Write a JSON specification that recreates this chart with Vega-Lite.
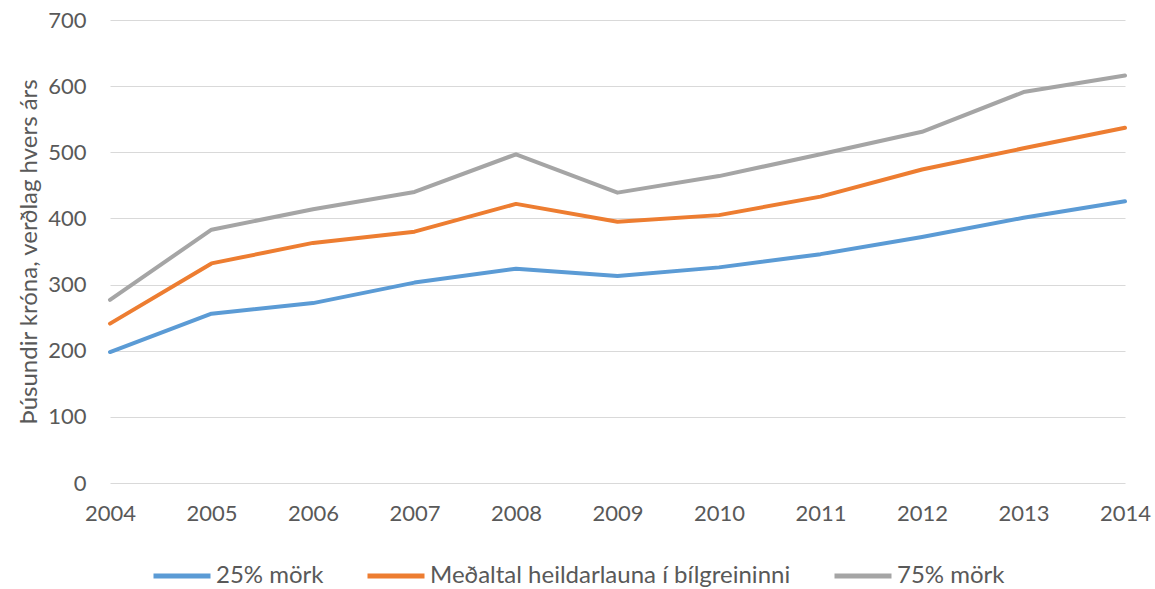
{
  "$schema": "https://vega.github.io/schema/vega-lite/v6.json",
  "width": 1015,
  "height": 463,
  "autosize": {"type": "none"},
  "padding": {"left": 110, "top": 20, "right": 30, "bottom": 106},
  "background": "white",
  "config": {
    "font": "Lato",
    "view": {"stroke": null},
    "axis": {"labelFont": "Lato", "titleFont": "Lato", "labelColor": "#595959", "titleColor": "#595959"}
  },
  "data": {
    "values": [
      {"year": 2004, "series": "25% mörk", "value": 198},
      {"year": 2005, "series": "25% mörk", "value": 256},
      {"year": 2006, "series": "25% mörk", "value": 272},
      {"year": 2007, "series": "25% mörk", "value": 303},
      {"year": 2008, "series": "25% mörk", "value": 324},
      {"year": 2009, "series": "25% mörk", "value": 313},
      {"year": 2010, "series": "25% mörk", "value": 326},
      {"year": 2011, "series": "25% mörk", "value": 346},
      {"year": 2012, "series": "25% mörk", "value": 372},
      {"year": 2013, "series": "25% mörk", "value": 401},
      {"year": 2014, "series": "25% mörk", "value": 426},
      {"year": 2004, "series": "Meðaltal heildarlauna í bílgreininni", "value": 241},
      {"year": 2005, "series": "Meðaltal heildarlauna í bílgreininni", "value": 332},
      {"year": 2006, "series": "Meðaltal heildarlauna í bílgreininni", "value": 363},
      {"year": 2007, "series": "Meðaltal heildarlauna í bílgreininni", "value": 380},
      {"year": 2008, "series": "Meðaltal heildarlauna í bílgreininni", "value": 422},
      {"year": 2009, "series": "Meðaltal heildarlauna í bílgreininni", "value": 395},
      {"year": 2010, "series": "Meðaltal heildarlauna í bílgreininni", "value": 405},
      {"year": 2011, "series": "Meðaltal heildarlauna í bílgreininni", "value": 433},
      {"year": 2012, "series": "Meðaltal heildarlauna í bílgreininni", "value": 474},
      {"year": 2013, "series": "Meðaltal heildarlauna í bílgreininni", "value": 506},
      {"year": 2014, "series": "Meðaltal heildarlauna í bílgreininni", "value": 537},
      {"year": 2004, "series": "75% mörk", "value": 277},
      {"year": 2005, "series": "75% mörk", "value": 383},
      {"year": 2006, "series": "75% mörk", "value": 414},
      {"year": 2007, "series": "75% mörk", "value": 440},
      {"year": 2008, "series": "75% mörk", "value": 497},
      {"year": 2009, "series": "75% mörk", "value": 439},
      {"year": 2010, "series": "75% mörk", "value": 464},
      {"year": 2011, "series": "75% mörk", "value": 497},
      {"year": 2012, "series": "75% mörk", "value": 531},
      {"year": 2013, "series": "75% mörk", "value": 591},
      {"year": 2014, "series": "75% mörk", "value": 616}
    ]
  },
  "mark": {"type": "line", "strokeWidth": 4, "strokeCap": "round", "strokeJoin": "round"},
  "encoding": {
    "x": {
      "field": "year",
      "type": "quantitative",
      "scale": {"domain": [2004, 2014], "nice": false, "zero": false},
      "axis": {
        "title": null,
        "values": [2004, 2005, 2006, 2007, 2008, 2009, 2010, 2011, 2012, 2013, 2014],
        "format": "d",
        "grid": false,
        "domain": false,
        "ticks": false,
        "labelFontSize": 22,
        "labelPadding": 20,
        "labelFlush": false
      }
    },
    "y": {
      "field": "value",
      "type": "quantitative",
      "scale": {"domain": [0, 700], "nice": false},
      "axis": {
        "title": "Þúsundir króna, verðlag hvers árs",
        "titleFontSize": 24,
        "titleFontWeight": "normal",
        "titlePadding": 6,
        "values": [0, 100, 200, 300, 400, 500, 600, 700],
        "grid": true,
        "gridColor": "#d9d9d9",
        "gridWidth": 1.2,
        "domain": false,
        "ticks": false,
        "labelFontSize": 22,
        "labelPadding": 24
      }
    },
    "color": {
      "field": "series",
      "type": "nominal",
      "scale": {
        "domain": ["25% mörk", "Meðaltal heildarlauna í bílgreininni", "75% mörk"],
        "range": ["#5B9BD5", "#ED7D31", "#A5A5A5"]
      },
      "legend": {
        "title": null,
        "orient": "none",
        "legendX": 41,
        "legendY": 525,
        "direction": "horizontal",
        "symbolType": "stroke",
        "symbolStrokeWidth": 5,
        "symbolSize": 3249,
        "labelFontSize": 24,
        "labelColor": "#595959",
        "labelLimit": 500,
        "labelOffset": 3,
        "columnPadding": 33
      }
    }
  }
}
